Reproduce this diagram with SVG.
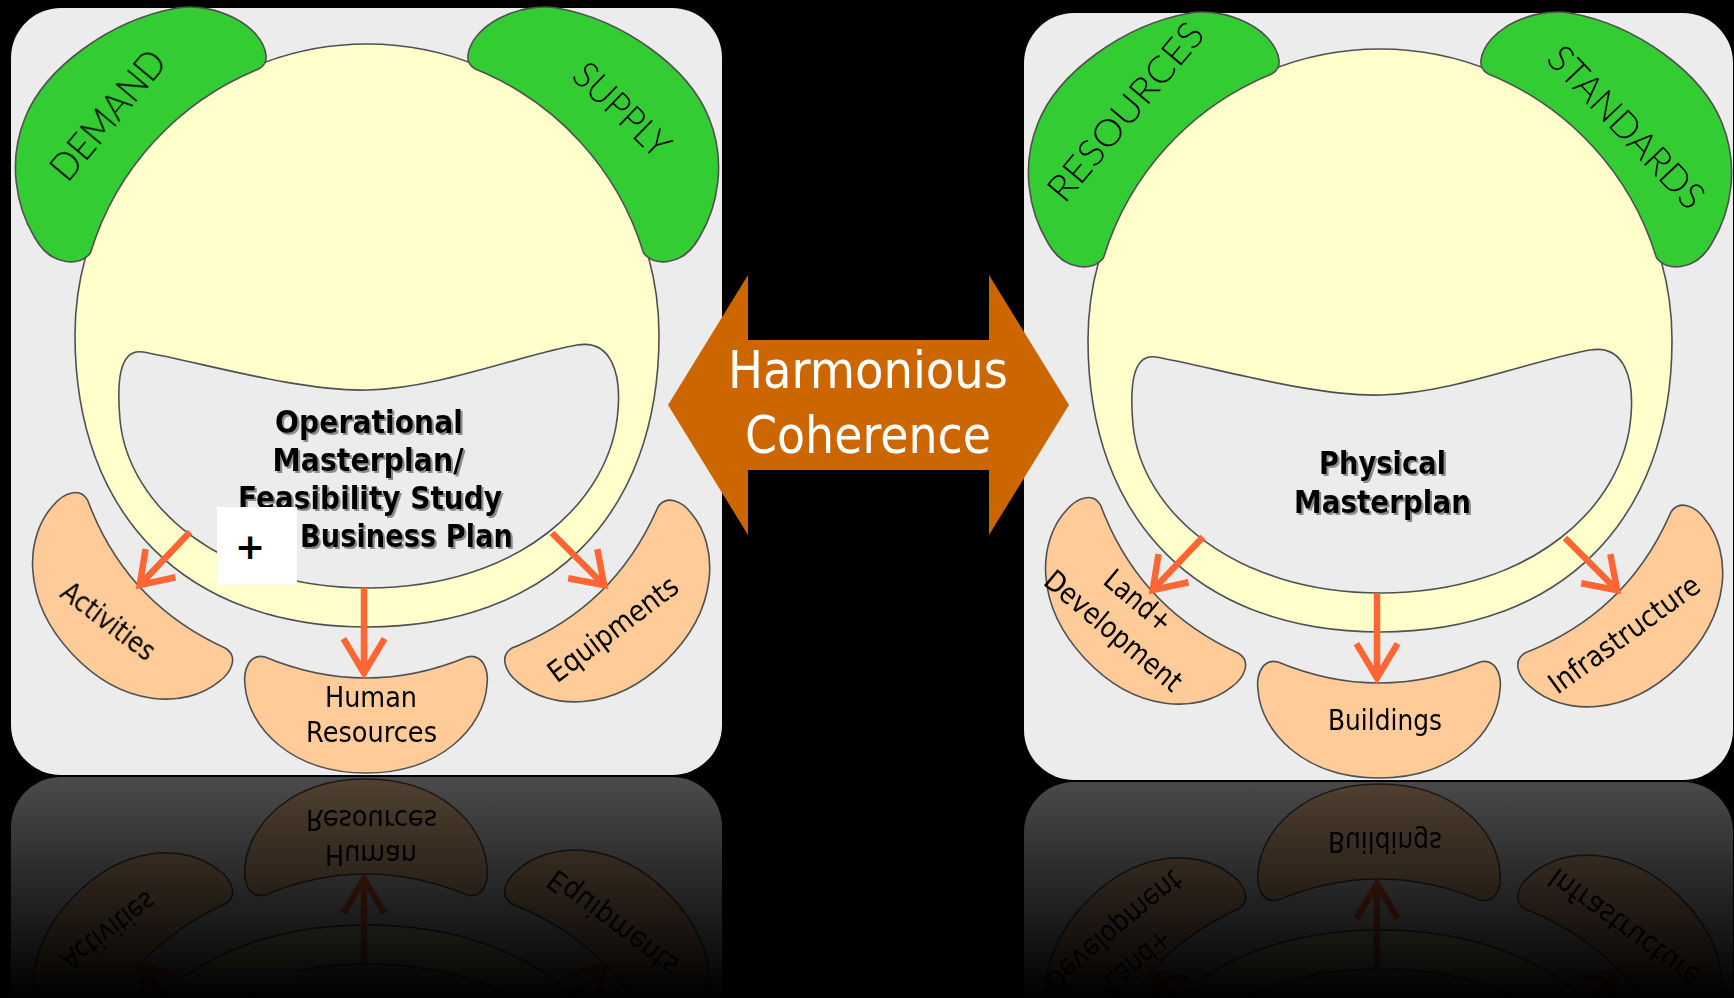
<svg xmlns="http://www.w3.org/2000/svg" width="1734" height="998" viewBox="0 0 1734 998">
<defs>
<style>
.bg{fill:#000}
.panel{fill:#ececec}
.ol{stroke:#505050;stroke-width:1.6}
.egg{fill:#ffffcc}
.inner{fill:#ececec}
.green{fill:#33cc33}
.peach{fill:#ffcc99}
.t{font-family:"DejaVu Sans","Liberation Sans",sans-serif;fill:#000}
.lbl{font-size:29px}
.glbl{font-family:Lato,"DejaVu Sans",sans-serif;font-weight:300;font-size:37px;fill:#000}
.main{font-weight:bold;font-size:32px;filter:url(#tshadow)}
.arrow{fill:none;stroke:#ff6633;stroke-width:6.5;stroke-linejoin:miter;stroke-miterlimit:10}
.hc{font-family:"DejaVu Sans","Liberation Sans",sans-serif;font-size:52px;fill:#fff}
</style>
<filter id="tshadow" x="-10%" y="-30%" width="120%" height="160%">
<feDropShadow dx="2" dy="2" stdDeviation="0.7" flood-color="#808080" flood-opacity="0.9"/>
</filter>
<path id="bowl" d="M-101,-20Q0,22 101,-20C116,-24 123,-8 121,8C118,50 75,96 0,96C-75,96 -118,50 -121,8C-123,-8 -116,-24 -101,-20Z"/>
<path id="greenLobe" d="M35,238C15,205 8,160 25,118C45,68 110,20 177,8C215,2 262,25 266,55C267,62 263,67 258.7,69A289,289 0 0 0 90.6,252.5C82,266 52,268 35,238Z"/>
<path id="eggPath" d="M367,44C528,44 659,174 659,335C659,516 548,627 367,627C186,627 75,516 75,335C75,174 206,44 367,44Z"/>
<path id="innerPath" d="M143,352C200,362 300,392 368,390C440,388 520,355 577,345C612,339 621,375 618,410C612,500 520,588 368,588C220,588 128,505 120,420C117,385 118,348 143,352Z"/>
<linearGradient id="fadeGrad" gradientUnits="userSpaceOnUse" x1="0" y1="777" x2="0" y2="1000">
<stop offset="0" stop-color="#fff" stop-opacity="0.32"/>
<stop offset="1" stop-color="#fff" stop-opacity="0"/>
</linearGradient>
<mask id="fade" maskUnits="userSpaceOnUse" x="0" y="770" width="1734" height="228">
<rect x="0" y="770" width="1734" height="228" fill="url(#fadeGrad)"/>
</mask>
</defs>

<rect class="bg" x="0" y="0" width="1734" height="998"/>

<g id="reflection" mask="url(#fade)">
<use href="#panel-left" transform="matrix(1,0,0,-1,0,1552)"/>
<use href="#conn-left" transform="matrix(1,0,0,-1,0,1552)"/>
<use href="#panel-right" transform="matrix(1,0,0,-1,0,1562)"/>
<use href="#conn-right" transform="matrix(1,0,0,-1,0,1562)"/>
</g>

<g id="panel-left">
<rect class="panel" x="11" y="8" width="711" height="767" rx="50"/>
<g id="operational-masterplan">
<use href="#eggPath" class="egg ol"/>
<use href="#innerPath" class="inner ol"/>
<text class="t main" x="369" y="433" text-anchor="middle" textLength="188" lengthAdjust="spacingAndGlyphs">Operational</text>
<text class="t main" x="368" y="471" text-anchor="middle" textLength="191" lengthAdjust="spacingAndGlyphs">Masterplan/</text>
<text class="t main" x="370" y="509" text-anchor="middle" textLength="264" lengthAdjust="spacingAndGlyphs">Feasibility Study</text>
<text class="t main" x="300" y="547" textLength="213" lengthAdjust="spacingAndGlyphs">Business Plan</text>
<rect x="217" y="507" width="80" height="78" fill="#fff"/>
<text class="t" x="250" y="559" font-size="36" font-weight="bold" text-anchor="middle">+</text>
</g>
<g id="demand">
<use href="#greenLobe" class="green ol"/>
<text class="glbl" transform="translate(118,123.5) rotate(-50)" text-anchor="middle" textLength="157" lengthAdjust="spacingAndGlyphs">DEMAND</text>
</g>
<g id="supply">
<use href="#greenLobe" class="green ol" transform="matrix(-1,0,0,1,734,0)"/>
<text class="glbl" transform="translate(613,119) rotate(44)" text-anchor="middle" textLength="119" lengthAdjust="spacingAndGlyphs">SUPPLY</text>
</g>
<g id="activities">
<use href="#bowl" class="peach ol" transform="translate(142,588) rotate(47)"/>
<text class="t lbl" transform="translate(102.5,629) rotate(37)" text-anchor="middle" textLength="110" lengthAdjust="spacingAndGlyphs">Activities</text>
</g>
<g id="human-resources">
<use href="#bowl" class="peach ol" transform="translate(366,677)"/>
<text class="t lbl" x="371" y="707" text-anchor="middle" textLength="92" lengthAdjust="spacingAndGlyphs">Human</text>
<text class="t lbl" x="371.5" y="742" text-anchor="middle" textLength="131" lengthAdjust="spacingAndGlyphs">Resources</text>
</g>
<g id="equipments">
<use href="#bowl" class="peach ol" transform="translate(599,592) rotate(-44)"/>
<text class="t lbl" transform="translate(619,637) rotate(-37)" text-anchor="middle" textLength="155" lengthAdjust="spacingAndGlyphs">Equipments</text>
</g>
</g>

<g id="panel-right">
<rect class="panel" x="1024" y="13" width="709" height="767" rx="50"/>
<g id="physical-masterplan">
<use href="#eggPath" class="egg ol" transform="translate(1013,5)"/>
<use href="#innerPath" class="inner ol" transform="translate(1013,5)"/>
<text class="t main" x="1382.5" y="474" text-anchor="middle" textLength="127" lengthAdjust="spacingAndGlyphs">Physical</text>
<text class="t main" x="1382.5" y="513" text-anchor="middle" textLength="177" lengthAdjust="spacingAndGlyphs">Masterplan</text>
</g>
<g id="resources">
<use href="#greenLobe" class="green ol" transform="translate(1013,5)"/>
<text class="glbl" transform="translate(1135.5,120) rotate(-50)" text-anchor="middle" textLength="221" lengthAdjust="spacingAndGlyphs">RESOURCES</text>
</g>
<g id="standards">
<use href="#greenLobe" class="green ol" transform="matrix(-1,0,0,1,1747,5)"/>
<text class="glbl" transform="translate(1617,136) rotate(46.5)" text-anchor="middle" textLength="209" lengthAdjust="spacingAndGlyphs">STANDARDS</text>
</g>
<g id="land-development">
<use href="#bowl" class="peach ol" transform="translate(1155,593) rotate(47)"/>
<text class="t lbl" transform="translate(1132,608.5) rotate(40)" text-anchor="middle" textLength="79" lengthAdjust="spacingAndGlyphs">Land+</text>
<text class="t lbl" transform="translate(1107,638.5) rotate(40)" text-anchor="middle" textLength="170" lengthAdjust="spacingAndGlyphs">Development</text>
</g>
<g id="buildings">
<use href="#bowl" class="peach ol" transform="translate(1379,682)"/>
<text class="t lbl" x="1385" y="730" text-anchor="middle" textLength="114" lengthAdjust="spacingAndGlyphs">Buildings</text>
</g>
<g id="infrastructure">
<use href="#bowl" class="peach ol" transform="translate(1612,597) rotate(-44)"/>
<text class="t lbl" transform="translate(1630,642.5) rotate(-36)" text-anchor="middle" textLength="179" lengthAdjust="spacingAndGlyphs">Infrastructure</text>
</g>
</g>

<g id="harmonious-coherence">
<polygon fill="#cc6600" points="668,405 748,275 748,340 989,340 989,275 1069,405 989,535 989,470 748,470 748,535"/>
<text class="hc" x="868" y="388" text-anchor="middle" textLength="280" lengthAdjust="spacingAndGlyphs">Harmonious</text>
<text class="hc" x="868" y="453" text-anchor="middle" textLength="246" lengthAdjust="spacingAndGlyphs">Coherence</text>
</g>

<g id="connectors">
<g id="conn-left">
<path class="arrow" d="M190,532L139.7,585.1M145.6,549L139.7,585.1L175.5,577.3"/>
<path class="arrow" d="M364,588L364,673M343.4,638.7L364,673L384.6,638.7"/>
<path class="arrow" d="M552,533L604.2,585.2M597.3,549.2L604.2,585.2L568.2,578.3"/>
</g>
<g id="conn-right" transform="translate(1013,5)">
<path class="arrow" d="M190,532L139.7,585.1M145.6,549L139.7,585.1L175.5,577.3"/>
<path class="arrow" d="M364,588L364,673M343.4,638.7L364,673L384.6,638.7"/>
<path class="arrow" d="M552,533L604.2,585.2M597.3,549.2L604.2,585.2L568.2,578.3"/>
</g>
</g>
</svg>
